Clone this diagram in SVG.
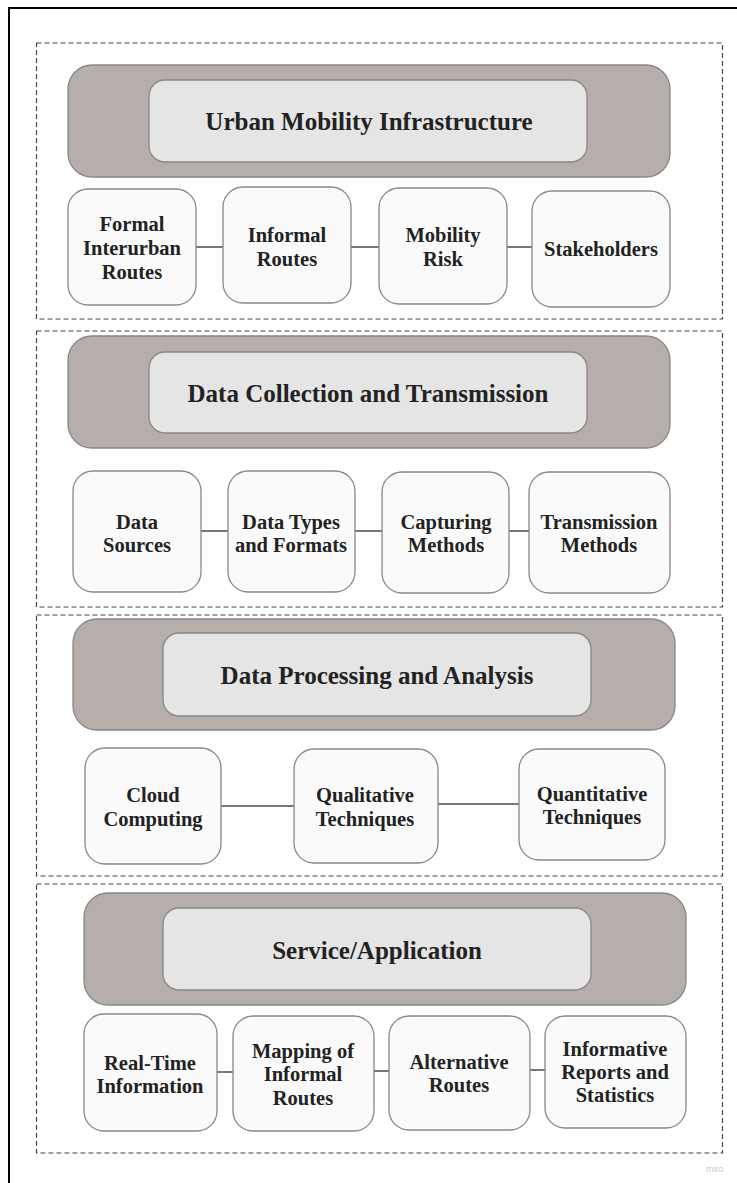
<svg xmlns="http://www.w3.org/2000/svg" width="737" height="1183" viewBox="0 0 737 1183">
<style>
.frame{fill:none;stroke:#000;stroke-width:2}
.sec{fill:none;stroke:#444;stroke-width:1.2;stroke-dasharray:5 3}
.big{fill:#b5aeab;stroke:#888;stroke-width:1.3}
.inner{fill:#e5e5e5;stroke:#888;stroke-width:1.3}
.child{fill:#fafafa;stroke:#888;stroke-width:1.3}
.conn{stroke:#777;stroke-width:2;fill:none}
.t{font-family:'Liberation Serif','Times New Roman',Tinos,'DejaVu Serif',serif;font-weight:700;fill:#222;text-anchor:middle}
.title{font-size:25px}
.lbl{font-size:20.5px}
.miro{font-family:'Liberation Sans',Arial,sans-serif;font-size:9px;fill:#c8c8c8}
</style>
<rect width="737" height="1183" fill="#fff"/>
<rect class="frame" x="9" y="8" width="800" height="1300"/>

<g id="sections">
<rect class="sec" x="36.5" y="43" width="686" height="276"/>
<rect class="sec" x="36.5" y="331" width="686" height="276"/>
<rect class="sec" x="36.5" y="615" width="686" height="261"/>
<rect class="sec" x="36.5" y="884" width="686" height="269"/>
</g>

<g id="connectors">
<line class="conn" x1="196" y1="247" x2="223" y2="247"/>
<line class="conn" x1="351" y1="247" x2="379" y2="247"/>
<line class="conn" x1="507" y1="247" x2="532" y2="247"/>
<line class="conn" x1="201" y1="531" x2="228" y2="531"/>
<line class="conn" x1="355" y1="531" x2="382" y2="531"/>
<line class="conn" x1="509" y1="531" x2="529" y2="531"/>
<line class="conn" x1="221" y1="806" x2="294" y2="806"/>
<line class="conn" x1="438" y1="804" x2="519" y2="804"/>
<line class="conn" x1="217" y1="1072" x2="233" y2="1072"/>
<line class="conn" x1="374" y1="1071" x2="389" y2="1071"/>
<line class="conn" x1="530" y1="1070" x2="545" y2="1070"/>
</g>

<g id="urban-mobility-infrastructure">
<rect class="big" x="68" y="65" width="602" height="112" rx="24"/>
<rect class="inner" x="149" y="80" width="438" height="82" rx="16"/>
<text class="t title" x="369" y="130">Urban Mobility Infrastructure</text>
</g>
<g id="formal-interurban-routes">
<rect class="child" x="68" y="189" width="128" height="116" rx="20"/>
<text class="t lbl" x="132" y="231">Formal</text>
<text class="t lbl" x="132" y="255">Interurban</text>
<text class="t lbl" x="132" y="279">Routes</text>
</g>
<g id="informal-routes">
<rect class="child" x="223" y="187" width="128" height="116" rx="20"/>
<text class="t lbl" x="287" y="242">Informal</text>
<text class="t lbl" x="287" y="266">Routes</text>
</g>
<g id="mobility-risk">
<rect class="child" x="379" y="188" width="128" height="116" rx="20"/>
<text class="t lbl" x="443" y="242">Mobility</text>
<text class="t lbl" x="443" y="266">Risk</text>
</g>
<g id="stakeholders">
<rect class="child" x="532" y="191" width="138" height="116" rx="20"/>
<text class="t lbl" x="601" y="256">Stakeholders</text>
</g>

<g id="data-collection-and-transmission">
<rect class="big" x="68" y="336" width="602" height="112" rx="24"/>
<rect class="inner" x="149" y="352" width="438" height="81" rx="16"/>
<text class="t title" x="368" y="402">Data Collection and Transmission</text>
</g>
<g id="data-sources">
<rect class="child" x="73" y="471" width="128" height="121" rx="20"/>
<text class="t lbl" x="137" y="529">Data</text>
<text class="t lbl" x="137" y="552">Sources</text>
</g>
<g id="data-types-and-formats">
<rect class="child" x="228" y="471" width="127" height="121" rx="20"/>
<text class="t lbl" x="291" y="529">Data Types</text>
<text class="t lbl" x="291" y="552">and Formats</text>
</g>
<g id="capturing-methods">
<rect class="child" x="382" y="472" width="127" height="121" rx="20"/>
<text class="t lbl" x="446" y="529">Capturing</text>
<text class="t lbl" x="446" y="552">Methods</text>
</g>
<g id="transmission-methods">
<rect class="child" x="529" y="472" width="141" height="121" rx="20"/>
<text class="t lbl" x="599" y="529">Transmission</text>
<text class="t lbl" x="599" y="552">Methods</text>
</g>

<g id="data-processing-and-analysis">
<rect class="big" x="73" y="619" width="602" height="111" rx="24"/>
<rect class="inner" x="163" y="633" width="428" height="83" rx="16"/>
<text class="t title" x="377" y="684">Data Processing and Analysis</text>
</g>
<g id="cloud-computing">
<rect class="child" x="85" y="748" width="136" height="116" rx="20"/>
<text class="t lbl" x="153" y="802">Cloud</text>
<text class="t lbl" x="153" y="826">Computing</text>
</g>
<g id="qualitative-techniques">
<rect class="child" x="294" y="749" width="144" height="114" rx="20"/>
<text class="t lbl" x="365" y="802">Qualitative</text>
<text class="t lbl" x="365" y="826">Techniques</text>
</g>
<g id="quantitative-techniques">
<rect class="child" x="519" y="749" width="146" height="111" rx="20"/>
<text class="t lbl" x="592" y="801">Quantitative</text>
<text class="t lbl" x="592" y="824">Techniques</text>
</g>

<g id="service-application">
<rect class="big" x="84" y="893" width="602" height="112" rx="24"/>
<rect class="inner" x="163" y="908" width="428" height="82" rx="16"/>
<text class="t title" x="377" y="959">Service/Application</text>
</g>
<g id="real-time-information">
<rect class="child" x="84" y="1014" width="133" height="117" rx="20"/>
<text class="t lbl" x="150" y="1070">Real-Time</text>
<text class="t lbl" x="150" y="1093">Information</text>
</g>
<g id="mapping-of-informal-routes">
<rect class="child" x="233" y="1016" width="141" height="115" rx="20"/>
<text class="t lbl" x="303" y="1058">Mapping of</text>
<text class="t lbl" x="303" y="1081">Informal</text>
<text class="t lbl" x="303" y="1105">Routes</text>
</g>
<g id="alternative-routes">
<rect class="child" x="389" y="1016" width="141" height="114" rx="20"/>
<text class="t lbl" x="459" y="1069">Alternative</text>
<text class="t lbl" x="459" y="1092">Routes</text>
</g>
<g id="informative-reports-and-statistics">
<rect class="child" x="545" y="1016" width="141" height="112" rx="20"/>
<text class="t lbl" x="615" y="1056">Informative</text>
<text class="t lbl" x="615" y="1079">Reports and</text>
<text class="t lbl" x="615" y="1102">Statistics</text>
</g>

<text class="miro" x="706" y="1172">miro</text>
</svg>
